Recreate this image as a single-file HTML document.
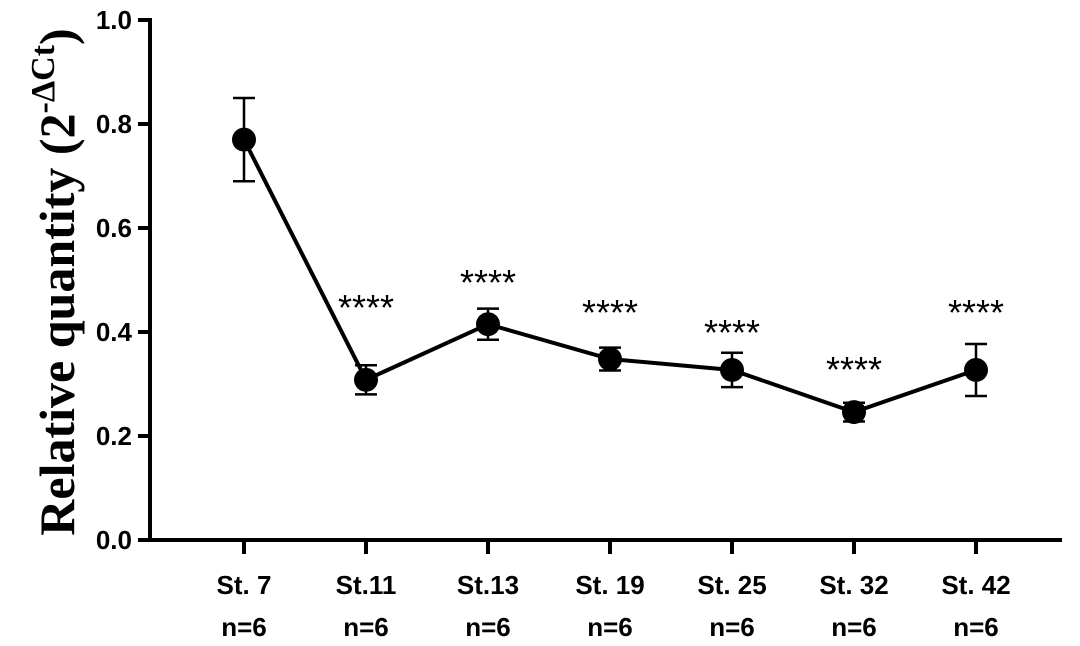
<!DOCTYPE html>
<html><head><meta charset="utf-8"><style>
body{margin:0;background:#fff;}
svg{display:block;}
.t{font-family:"Liberation Sans",Arial,sans-serif;font-weight:bold;font-size:26px;fill:#000;}
</style></head><body>
<svg id="c" width="1080" height="646">
<text transform="translate(74,282) rotate(-90)" text-anchor="middle" style="font-family:'Liberation Serif',serif;font-weight:bold;font-size:50px">Relative quantity (2<tspan dy="-20" font-size="34">-ΔCt</tspan><tspan dy="20">)</tspan></text>
</svg>
<script>
const categories=["St. 7","St.11","St.13","St. 19","St. 25","St. 32","St. 42"];
const nLabels=["n=6","n=6","n=6","n=6","n=6","n=6","n=6"];
const means=[0.77,0.308,0.415,0.348,0.327,0.246,0.327];
const errs=[0.08,0.028,0.03,0.022,0.033,0.018,0.05];
const sig=["","****","****","****","****","****","****"];
const sigLevel=[0,0.462,0.51,0.452,0.413,0.342,0.452];
const yTicks=[0,0.2,0.4,0.6,0.8,1.0];
const svg=document.getElementById('c');
const NS='http://www.w3.org/2000/svg';
const y=v=>540-v*520;
const x=i=>244+i*122;
function mk(tag,a){const e=document.createElementNS(NS,tag);for(const k in a)e.setAttribute(k,a[k]);svg.appendChild(e);return e;}
let e=mk('line',{x1:150,y1:18,x2:150,y2:541,stroke:'#000','stroke-width':4});


e=mk('line',{x1:148,y1:540,x2:1062,y2:540,stroke:'#000','stroke-width':4});


yTicks.forEach(v=>{
 e=mk('line',{x1:138,y1:y(v),x2:150,y2:y(v),stroke:'#000','stroke-width':4});
 
 
 e=mk('text',{x:132,y:y(v)+9,'text-anchor':'end',class:'t'});e.textContent=v.toFixed(1);
 
 
});
categories.forEach((c,i)=>{
 e=mk('line',{x1:x(i),y1:540,x2:x(i),y2:554,stroke:'#000','stroke-width':4});
 
 
 e=mk('text',{x:x(i),y:594,'text-anchor':'middle',class:'t'});e.textContent=c;
 
 
 e=mk('text',{x:x(i),y:636,'text-anchor':'middle',class:'t'});e.textContent=nLabels[i];
 
 
});
e=mk('polyline',{points:means.map((m,i)=>x(i)+','+y(m)).join(' '),fill:'none',stroke:'#000','stroke-width':4});


means.forEach((m,i)=>{
 const t=y(m+errs[i]),b=y(m-errs[i]);
 e=mk('path',{d:`M${x(i)},${t}V${b}M${x(i)-11},${t}H${x(i)+11}M${x(i)-11},${b}H${x(i)+11}`,stroke:'#000','stroke-width':2.5,fill:'none'});
 
 
 e=mk('circle',{cx:x(i),cy:y(m),r:12,fill:'#000'});
 
 
 if(sig[i]){
  e=mk('text',{x:x(i),y:y(sigLevel[i])+20,'text-anchor':'middle',class:'t',style:'font-size:36px;font-weight:normal'});e.textContent=sig[i];
  
  
 }
});
</script>
</body></html>
